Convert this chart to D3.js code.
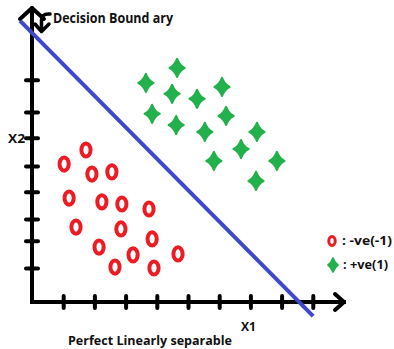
<!DOCTYPE html>
<html><head><meta charset="utf-8">
<script src="https://cdn.jsdelivr.net/npm/d3@7/dist/d3.min.js"></script>
<style>html,body{margin:0;padding:0;background:#fff;}svg{display:block;}</style>
</head><body>
<script>
// ---- data (in axis units) ----
const negX = [1.73,1.03,1.92,2.56,1.19,2.24,2.88,3.75,1.41,2.85,3.85,2.15,3.24,4.68,2.66,3.91];
const negY = [4.87,4.42,4.10,4.17,3.33,3.21,3.14,2.98,2.40,2.34,2.02,1.76,1.51,1.54,1.12,1.09];
const posX = [3.65,4.65,4.49,5.29,6.09,3.85,4.62,6.22,5.54,7.21,6.70,5.83,7.85,7.18];
const posY = [7.02,7.50,6.67,6.51,6.89,6.03,5.67,5.96,5.45,5.45,4.90,4.52,4.52,3.88];
const boundaryX = [-0.38, 9.01];
const boundaryY = [9.01, -0.45];
const xTicks = [1,2,3,4,5,6,7,8,9];
const yTicks = [1.09,1.96,2.66,3.53,4.36,5.26,6.09,7.12];
const legendLabels = [": -ve(-1)", ": +ve(1)"];
const axisLabels = ["X1","X2"];
const titleText = "Decision Bound ary";
const captionText = "Perfect Linearly separable";

const W = 394, H = 349;
const RED = "#ed1c24", GREEN = "#22b14c", BLUE = "#3f48cc";
const svg = d3.select("body").append("svg").attr("width", W).attr("height", H);

const x = d3.scaleLinear().domain([0,10]).range([32,344]);
const y = d3.scaleLinear().domain([0,9.42]).range([302,8]);

// axes lines
svg.append("line").attr("x1",x(0)).attr("x2",x(10)).attr("y1",y(0)).attr("y2",y(0))
  .attr("stroke","#000").attr("stroke-width",4).attr("stroke-linecap","square");
svg.append("line").attr("x1",x(0)).attr("x2",x(0)).attr("y1",y(0)).attr("y2",y(9.42))
  .attr("stroke","#000").attr("stroke-width",4).attr("stroke-linecap","round");
// arrowheads
svg.append("path").attr("d",`M${x(10)-9},${y(0)-8}L${x(10)},${y(0)}L${x(10)-9},${y(0)+8}`)
  .attr("fill","none").attr("stroke","#000").attr("stroke-width",4).attr("stroke-linecap","round").attr("stroke-linejoin","round");
svg.append("path").attr("d",`M${x(0)-12},${y(9.42)+11}L${x(0)},${y(9.42)}L${x(0)+12},${y(9.42)+11}`)
  .attr("fill","none").attr("stroke","#000").attr("stroke-width",4).attr("stroke-linecap","round").attr("stroke-linejoin","round");

// ticks via d3 axes
const gx = svg.append("g").attr("transform",`translate(0,${y(0)-6})`)
  .call(d3.axisBottom(x).tickValues(xTicks).tickSize(12).tickFormat(""));
gx.select(".domain").remove();
gx.selectAll("line").attr("stroke","#000").attr("stroke-width",4).attr("stroke-linecap","round");
const gy = svg.append("g").attr("transform",`translate(${x(0)+6},0)`)
  .call(d3.axisLeft(y).tickValues(yTicks).tickSize(12).tickFormat(""));
gy.select(".domain").remove();
gy.selectAll("line").attr("stroke","#000").attr("stroke-width",4).attr("stroke-linecap","round");

// boundary line
svg.append("line").attr("x1",x(boundaryX[0])).attr("y1",y(boundaryY[0]))
  .attr("x2",x(boundaryX[1])).attr("y2",y(boundaryY[1]))
  .attr("stroke",BLUE).attr("stroke-width",4);

// pointer arrow to boundary
svg.append("path").attr("d","M50,14 Q41,13 41.5,22 L41.5,31")
  .attr("fill","none").attr("stroke","#000").attr("stroke-width",3.5).attr("stroke-linecap","round");
svg.append("path").attr("d","M35,24 L41.5,31.5 L49,24")
  .attr("fill","none").attr("stroke","#000").attr("stroke-width",3.5).attr("stroke-linecap","round").attr("stroke-linejoin","round");

// negative class: ellipses
const negData = negX.map((v,i)=>({x:v,y:negY[i]}));
svg.append("g").selectAll("ellipse").data(negData).join("ellipse")
  .attr("cx",d=>x(d.x)).attr("cy",d=>y(d.y)).attr("rx",4.6).attr("ry",6.6)
  .attr("fill","none").attr("stroke",RED).attr("stroke-width",4);

// positive class: concave 4-point stars
function star(hw,hh,c){
  return `M0,${-hh}Q${c},${-c} ${hw},0Q${c},${c} 0,${hh}Q${-c},${c} ${-hw},0Q${-c},${-c} 0,${-hh}Z`;
}
const posData = posX.map((v,i)=>({x:v,y:posY[i]}));
svg.append("g").selectAll("path").data(posData).join("path")
  .attr("transform",d=>`translate(${x(d.x)},${y(d.y)})`)
  .attr("d",star(7.5,9,2.4)).attr("fill",GREEN).attr("stroke",GREEN).attr("stroke-width",2.2).attr("stroke-linejoin","round");

// legend
svg.append("ellipse").attr("cx",332).attr("cy",241).attr("rx",3.2).attr("ry",4.5)
  .attr("fill","none").attr("stroke",RED).attr("stroke-width",3);
svg.append("path").attr("transform","translate(333,265)").attr("d",star(5,7,2))
  .attr("fill",GREEN).attr("stroke",GREEN).attr("stroke-width",1.8).attr("stroke-linejoin","round");

const font = "'Open Sans', sans-serif";
function txt(s,tx,ty,size,len){
  const t = svg.append("text").attr("x",tx).attr("y",ty).text(s)
    .attr("font-family",font).attr("font-weight",700).attr("font-size",size).attr("fill","#111");
  if(len) t.attr("textLength",len).attr("lengthAdjust","spacingAndGlyphs");
  return t;
}
txt(legendLabels[0],342,245,12,50);
txt(legendLabels[1],343,269,12,45);
txt(titleText,53,23,14,120);
txt(axisLabels[0],241,331,12,15);
txt(axisLabels[1],8,143,12,17);
txt(captionText,68,345,12,164);
</script>
</body></html>
